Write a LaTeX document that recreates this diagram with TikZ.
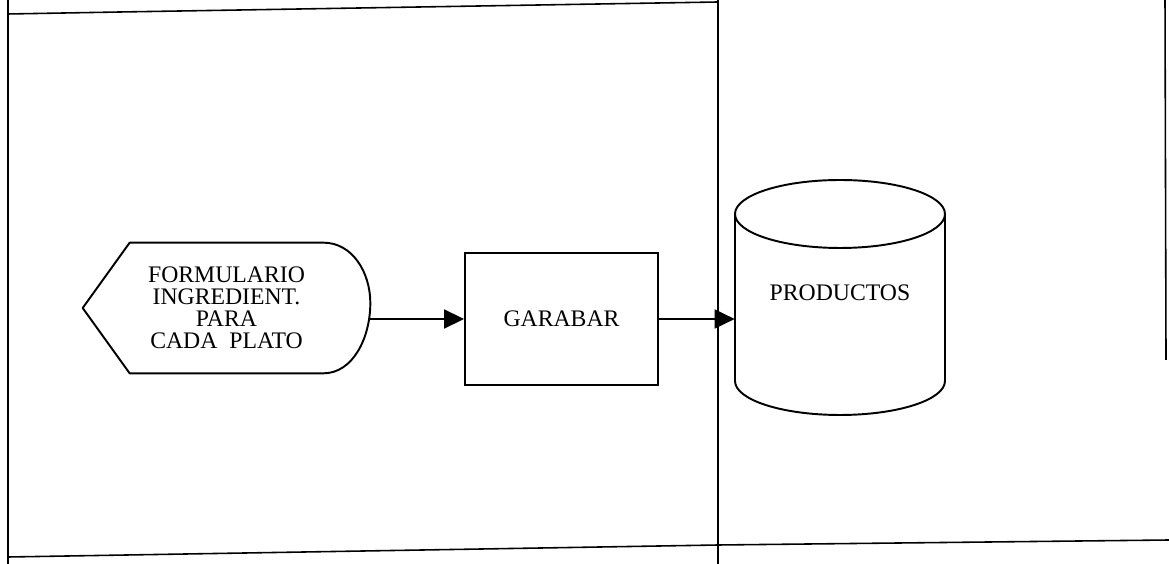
\documentclass[tikz,border=0pt]{standalone}
\usepackage{fontspec}
\setmainfont{Liberation Serif}
\usepackage{tikz}
\usetikzlibrary{arrows.meta}

\begin{document}
\begin{tikzpicture}[
    x=0.02cm, y=0.02cm,
    every node/.style={font=\fontsize{13.5}{12.5}\selectfont},
    box/.style={draw, rectangle, line width=1.1pt, minimum width=3.86cm, minimum height=2.64cm, align=center},
    outline/.style={line width=1.1pt, line join=round},
    frame/.style={line width=0.9pt},
    arrow/.style={-{Triangle[length=0.4cm, width=0.38cm]}, line width=1pt}
]
\useasboundingbox (0,0) rectangle (1169,564);

% Frame lines
\draw[frame] (8,564) -- (8,0);
\draw[frame] (8,550) -- (120,552) -- (718,562);
\draw[frame] (718,564) -- (718,0);
\draw[frame] (1165,564) -- (1166,204);
\draw[frame] (8,7) -- (718,19) -- (1169,24);

% Nodes
\node[minimum width=5.74cm, minimum height=2.6cm, align=center] (form) at (226.5,256)
    {FORMULARIO\\INGREDIENT.\\PARA\\CADA~~PLATO};
\node[box] (gr) at (561.5,245) {GARABAR};
\node[minimum width=4.2cm, align=center] (prod) at (840,271) {PRODUCTOS};

% Display shape round the form
\draw[outline] (form.west) -- ([xshift=0.94cm]form.north west)
    -- ([xshift=-0.94cm]form.north east)
    .. controls ([xshift=-0.35cm]form.north east) and ([yshift=0.7cm]form.east) .. ([yshift=0.1cm]form.east)
    .. controls ([yshift=-0.6cm]form.east) and ([xshift=-0.35cm]form.south east) .. ([xshift=-0.94cm]form.south east)
    -- ([xshift=0.94cm]form.south west) -- cycle;

% Cylinder round the products
\draw[outline] (840,350) ellipse [x radius=2.1cm, y radius=0.68cm];
\draw[outline] (735,350) -- (735,183)
    arc [start angle=180, end angle=360, x radius=2.1cm, y radius=0.68cm] -- (945,350);

% Arrows
\draw[arrow] (form.east |- gr.west) -- (gr.west);
\draw[arrow] (gr.east) -- (gr.east -| prod.west);

\end{tikzpicture}
\end{document}
